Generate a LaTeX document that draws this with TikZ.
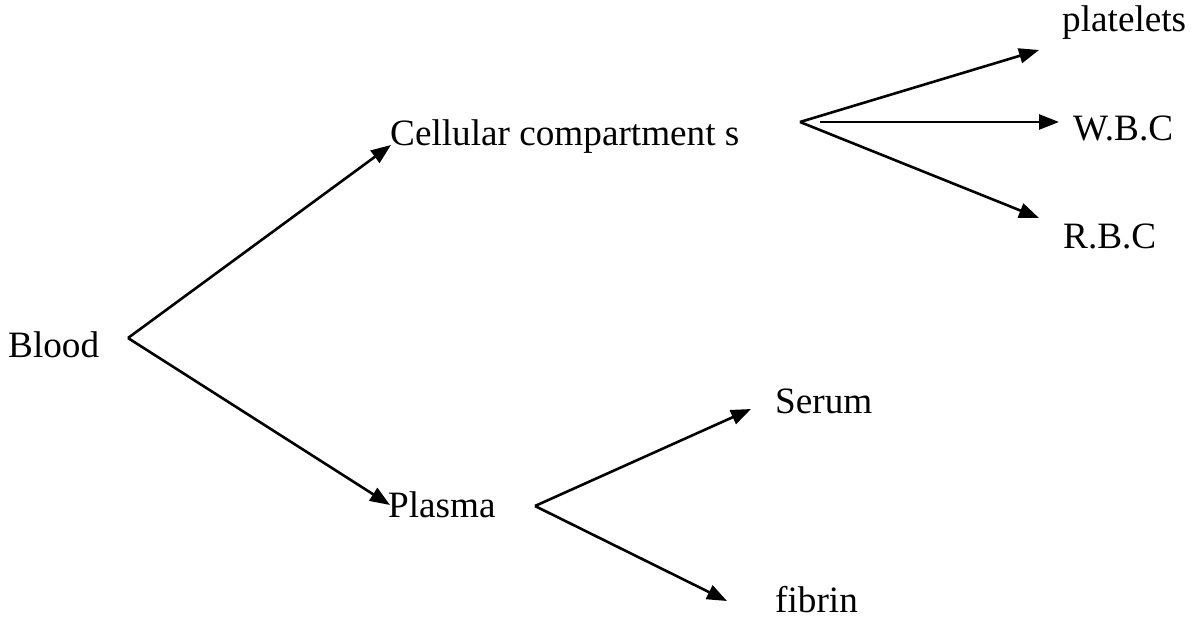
\documentclass[tikz,border=0pt]{standalone}
\usepackage{fontspec}
\setmainfont{Liberation Serif}
\usetikzlibrary{arrows.meta}
\begin{document}
\begin{tikzpicture}[x=1pt,y=-1pt,
  lbl/.style={anchor=base west,inner sep=0pt,font=\fontsize{37.2}{44}\selectfont},
  link/.style={line width=2.6pt,-{Triangle[length=20pt,width=15pt]}}]
\useasboundingbox (0,0) rectangle (1192,629);
\node[lbl] (blood) at (8,357) {Blood};
\node[lbl] (cell) at (390,145) {Cellular compartment s};
\node[lbl] (plasma) at (388,517) {Plasma};
\node[lbl] (plt) at (1062,31) {platelets};
\node[lbl] (wbc) at (1073,140) {W.B.C};
\node[lbl] (rbc) at (1063,248) {R.B.C};
\node[lbl] (serum) at (775,413) {Serum};
\node[lbl] (fibrin) at (775,612) {fibrin};
\coordinate (bapex) at (128,338);
\coordinate (capex) at (800,122);
\coordinate (cstart) at (820,122);
\coordinate (papex) at (535,506);
\coordinate (tcell) at (391,145);
\coordinate (tplasma) at (390,505);
\coordinate (tplt) at (1039,50);
\coordinate (twbc) at (1059,122);
\coordinate (trbc) at (1039,218);
\coordinate (tserum) at (751,409);
\coordinate (tfibrin) at (727,601);
\draw[link] (bapex) -- (tcell);
\draw[link] (bapex) -- (tplasma);
\draw[link] (capex) -- (tplt);
\draw[link] (cstart) -- (twbc);
\draw[link] (capex) -- (trbc);
\draw[link] (papex) -- (tserum);
\draw[link] (papex) -- (tfibrin);
\end{tikzpicture}
\end{document}
